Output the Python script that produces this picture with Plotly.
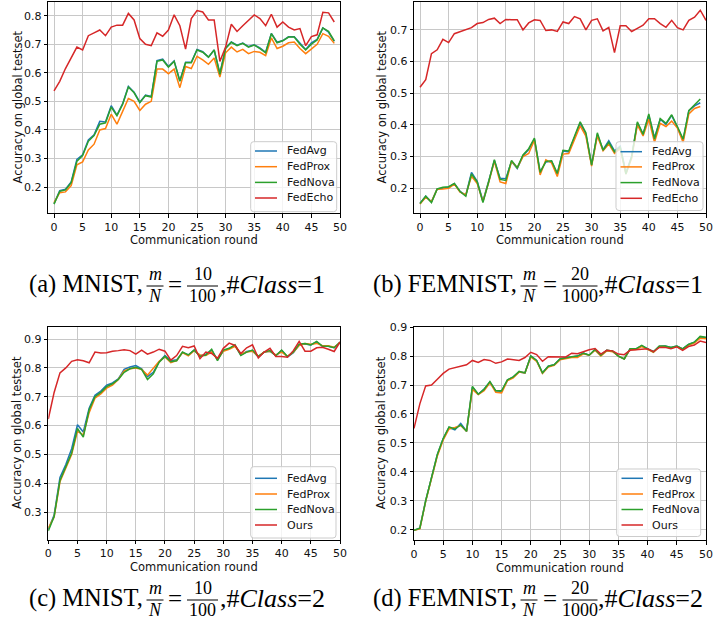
import plotly.graph_objects as go

W, H = 717, 621

# ---------------- data ----------------
series_names_ab = ["FedAvg", "FedProx", "FedNova", "FedEcho"]
series_names_cd = ["FedAvg", "FedProx", "FedNova", "Ours"]
colors = ["#1f77b4", "#ff7f0e", "#2ca02c", "#d62728"]

x_ticks = [0, 5, 10, 15, 20, 25, 30, 35, 40, 45, 50]

# (a) MNIST, #Class=1
fedavg_a = [0.142,0.187,0.192,0.218,0.297,0.313,0.365,0.383,0.43,0.428,0.485,0.452,0.492,0.552,0.532,0.497,0.522,0.517,0.643,0.648,0.622,0.642,0.572,0.637,0.637,0.682,0.674,0.655,0.68,0.598,0.687,0.708,0.697,0.704,0.692,0.698,0.687,0.672,0.738,0.707,0.713,0.726,0.726,0.703,0.682,0.705,0.717,0.757,0.742,0.71]
fedprox_a = [0.145,0.18,0.183,0.205,0.278,0.288,0.33,0.35,0.40,0.405,0.455,0.42,0.465,0.51,0.50,0.468,0.49,0.50,0.613,0.613,0.597,0.613,0.548,0.622,0.615,0.658,0.645,0.63,0.652,0.585,0.67,0.69,0.673,0.682,0.667,0.675,0.672,0.66,0.722,0.685,0.693,0.705,0.708,0.685,0.667,0.685,0.70,0.737,0.728,0.703]
fednova_a = [0.14,0.185,0.19,0.215,0.29,0.31,0.36,0.38,0.42,0.425,0.48,0.45,0.49,0.55,0.53,0.495,0.52,0.515,0.64,0.645,0.62,0.64,0.57,0.635,0.635,0.68,0.672,0.655,0.68,0.595,0.685,0.707,0.695,0.703,0.69,0.697,0.685,0.67,0.737,0.705,0.712,0.725,0.725,0.70,0.68,0.70,0.715,0.757,0.745,0.712]
fedecho_a = [0.537,0.57,0.615,0.65,0.69,0.68,0.73,0.74,0.75,0.73,0.76,0.767,0.767,0.808,0.785,0.72,0.70,0.695,0.74,0.728,0.75,0.803,0.765,0.683,0.79,0.818,0.813,0.785,0.785,0.64,0.69,0.77,0.745,0.765,0.785,0.803,0.79,0.765,0.805,0.76,0.778,0.76,0.75,0.755,0.695,0.727,0.733,0.812,0.81,0.778]

# (b) FEMNIST, #Class=1
fedavg_b = [0.152,0.175,0.157,0.198,0.2,0.203,0.215,0.19,0.178,0.25,0.222,0.16,0.222,0.288,0.232,0.23,0.285,0.262,0.303,0.322,0.355,0.252,0.283,0.285,0.245,0.318,0.315,0.362,0.405,0.37,0.275,0.37,0.322,0.35,0.318,0.333,0.25,0.3,0.405,0.372,0.43,0.36,0.418,0.402,0.43,0.392,0.352,0.445,0.46,0.47]
fedprox_b = [0.15,0.172,0.158,0.197,0.198,0.2,0.213,0.188,0.18,0.238,0.215,0.158,0.218,0.285,0.22,0.215,0.285,0.265,0.3,0.31,0.352,0.242,0.29,0.28,0.237,0.308,0.31,0.355,0.397,0.365,0.27,0.365,0.318,0.34,0.31,0.325,0.245,0.295,0.40,0.365,0.418,0.345,0.405,0.395,0.412,0.39,0.345,0.435,0.452,0.458]
fednova_b = [0.152,0.175,0.155,0.198,0.203,0.205,0.215,0.19,0.175,0.245,0.22,0.155,0.22,0.29,0.228,0.225,0.288,0.265,0.305,0.325,0.358,0.25,0.285,0.287,0.247,0.32,0.318,0.365,0.41,0.375,0.273,0.375,0.32,0.345,0.315,0.33,0.245,0.30,0.41,0.37,0.435,0.355,0.42,0.405,0.432,0.395,0.355,0.445,0.465,0.482]
fedecho_b = [0.519,0.543,0.625,0.637,0.67,0.66,0.688,0.695,0.70,0.707,0.72,0.723,0.733,0.737,0.72,0.733,0.732,0.732,0.70,0.722,0.732,0.73,0.698,0.70,0.695,0.725,0.72,0.742,0.735,0.70,0.73,0.735,0.697,0.708,0.628,0.713,0.713,0.695,0.705,0.715,0.735,0.735,0.72,0.708,0.73,0.707,0.70,0.73,0.74,0.762,0.73]

# (c) MNIST, #Class=2
fedavg_c = [0.24,0.29,0.42,0.465,0.52,0.603,0.578,0.66,0.705,0.72,0.74,0.748,0.762,0.795,0.803,0.808,0.797,0.77,0.785,0.822,0.843,0.825,0.828,0.853,0.845,0.862,0.842,0.847,0.862,0.828,0.86,0.867,0.878,0.845,0.857,0.86,0.838,0.855,0.858,0.843,0.86,0.838,0.853,0.88,0.883,0.88,0.89,0.875,0.875,0.87,0.888]
fedprox_c = [0.245,0.283,0.405,0.45,0.50,0.58,0.568,0.645,0.695,0.71,0.73,0.74,0.76,0.79,0.797,0.80,0.795,0.775,0.80,0.823,0.838,0.818,0.825,0.853,0.842,0.86,0.845,0.843,0.855,0.83,0.858,0.865,0.875,0.848,0.855,0.858,0.84,0.855,0.858,0.845,0.855,0.84,0.855,0.878,0.885,0.882,0.885,0.877,0.877,0.872,0.887]
fednova_c = [0.235,0.285,0.41,0.455,0.505,0.59,0.56,0.655,0.70,0.715,0.735,0.745,0.76,0.785,0.797,0.802,0.795,0.76,0.78,0.82,0.84,0.822,0.825,0.855,0.845,0.862,0.84,0.845,0.865,0.825,0.862,0.868,0.88,0.843,0.855,0.862,0.84,0.855,0.86,0.842,0.862,0.84,0.855,0.882,0.885,0.88,0.892,0.875,0.875,0.87,0.89]
ours_c = [0.623,0.715,0.783,0.80,0.823,0.828,0.825,0.818,0.855,0.852,0.853,0.858,0.86,0.863,0.86,0.848,0.862,0.848,0.855,0.865,0.858,0.827,0.843,0.875,0.87,0.876,0.832,0.855,0.85,0.833,0.868,0.886,0.878,0.85,0.87,0.88,0.835,0.855,0.868,0.84,0.84,0.837,0.86,0.892,0.858,0.858,0.87,0.872,0.865,0.857,0.89]

# (d) FEMNIST, #Class=2
fedavg_d = [0.198,0.205,0.30,0.38,0.46,0.515,0.553,0.545,0.567,0.54,0.693,0.668,0.686,0.71,0.68,0.678,0.717,0.728,0.745,0.742,0.80,0.785,0.742,0.765,0.77,0.79,0.795,0.797,0.80,0.81,0.803,0.822,0.803,0.82,0.817,0.80,0.79,0.825,0.825,0.835,0.825,0.815,0.833,0.835,0.83,0.835,0.825,0.84,0.848,0.866,0.863]
fedprox_d = [0.198,0.203,0.298,0.378,0.455,0.51,0.548,0.553,0.56,0.54,0.685,0.667,0.68,0.708,0.675,0.673,0.715,0.725,0.745,0.742,0.797,0.782,0.74,0.762,0.768,0.787,0.792,0.795,0.795,0.808,0.803,0.82,0.8,0.818,0.815,0.8,0.79,0.823,0.823,0.833,0.823,0.813,0.832,0.832,0.828,0.833,0.823,0.838,0.845,0.862,0.86]
fednova_d = [0.198,0.205,0.30,0.38,0.46,0.515,0.555,0.548,0.562,0.54,0.695,0.668,0.685,0.712,0.68,0.68,0.718,0.728,0.747,0.742,0.80,0.785,0.742,0.765,0.77,0.79,0.795,0.798,0.80,0.81,0.803,0.823,0.803,0.82,0.818,0.80,0.79,0.825,0.825,0.837,0.825,0.815,0.835,0.835,0.83,0.835,0.825,0.84,0.848,0.868,0.865]
ours_d = [0.55,0.635,0.697,0.70,0.72,0.74,0.755,0.76,0.765,0.77,0.785,0.778,0.788,0.785,0.775,0.78,0.79,0.788,0.785,0.795,0.813,0.805,0.782,0.798,0.797,0.796,0.797,0.81,0.808,0.815,0.822,0.826,0.807,0.82,0.818,0.807,0.805,0.82,0.822,0.825,0.825,0.815,0.83,0.83,0.825,0.832,0.82,0.833,0.838,0.852,0.847]

y_ticks_a = [0.2, 0.3, 0.4, 0.5, 0.6, 0.7, 0.8]
y_ticks_b = [0.2, 0.3, 0.4, 0.5, 0.6, 0.7]
y_ticks_c = [0.3, 0.4, 0.5, 0.6, 0.7, 0.8, 0.9]
y_ticks_d = [0.2, 0.3, 0.4, 0.5, 0.6, 0.7, 0.8, 0.9]

x_title = "Communication round"
y_title = "Accuracy on global testset"

# ---------------- layout helpers (pixel -> paper) ----------------
def px(x):
    return x / W

def py(y):
    return 1 - y / H

panels = [
    dict(data=[fedavg_a, fedprox_a, fednova_a, fedecho_a], names=series_names_ab, yt=y_ticks_a,
         xr=[-1, 50], yr=[0.109, 0.848], xd=(48.3, 340), yd=(2, 213),
         box=(250.7, 336.7, 141.7, 211.7), line_x=(255, 277), text_x=285,
         rows=(151, 166.7, 182.4, 198), ylab_x=17),
    dict(data=[fedavg_b, fedprox_b, fednova_b, fedecho_b], names=series_names_ab, yt=y_ticks_b,
         xr=[-1, 50], yr=[0.122, 0.788], xd=(414.3, 706), yd=(2, 213),
         box=(616, 703, 141.7, 210.5), line_x=(620.5, 642), text_x=650,
         rows=(151.7, 166.9, 182.6, 198.3), ylab_x=381),
    dict(data=[fedavg_c, fedprox_c, fednova_c, ours_c], names=series_names_cd, yt=y_ticks_c,
         xr=[0, 50], yr=[0.205, 0.943], xd=(48.3, 340), yd=(326.7, 539.5),
         box=(250.7, 336, 466.7, 538), line_x=(255, 277), text_x=285,
         rows=(478.3, 494, 509.5, 525), ylab_x=17),
    dict(data=[fedavg_d, fedprox_d, fednova_d, ours_d], names=series_names_cd, yt=y_ticks_d,
         xr=[0, 50], yr=[0.1645, 0.9015], xd=(414, 706), yd=(326.7, 540),
         box=(616.7, 700.7, 469, 536.5), line_x=(621.5, 643), text_x=650,
         rows=(478.3, 494, 509.5, 525), ylab_x=381),
]

txt_color = "#111111"
tick_font = dict(family="DejaVu Sans", size=11, color=txt_color)
fig = go.Figure()
layout = dict(width=W, height=H, margin=dict(l=0, r=0, t=0, b=0, autoexpand=False),
              paper_bgcolor="white", plot_bgcolor="white", showlegend=False)
annotations = []
shapes = []


def rounded_rect(x0, x1, y0, y1, r=3):
    X = lambda v: f"{px(v):.6f}"
    Y = lambda v: f"{py(v):.6f}"
    return (f"M {X(x0 + r)} {Y(y0)} L {X(x1 - r)} {Y(y0)} Q {X(x1)} {Y(y0)} {X(x1)} {Y(y0 + r)} "
            f"L {X(x1)} {Y(y1 - r)} Q {X(x1)} {Y(y1)} {X(x1 - r)} {Y(y1)} "
            f"L {X(x0 + r)} {Y(y1)} Q {X(x0)} {Y(y1)} {X(x0)} {Y(y1 - r)} "
            f"L {X(x0)} {Y(y0 + r)} Q {X(x0)} {Y(y0)} {X(x0 + r)} {Y(y0)} Z")


for k, p in enumerate(panels):
    n = k + 1
    xa = "x" if n == 1 else f"x{n}"
    ya = "y" if n == 1 else f"y{n}"
    for s, name, col in zip(p["data"], p["names"], colors):
        fig.add_trace(go.Scatter(x=list(range(len(s))), y=s, mode="lines", name=name,
                                 line=dict(color=col, width=1.5), xaxis=xa, yaxis=ya))
    axis_common = dict(showline=True, linecolor="black", linewidth=1, mirror=True,
                       ticks="outside", ticklen=3.5, tickwidth=1, tickcolor="black",
                       showgrid=True, gridcolor="#c8c8c8", gridwidth=1, zeroline=False,
                       tickfont=tick_font, automargin=False)
    layout["xaxis" if n == 1 else f"xaxis{n}"] = dict(
        axis_common, domain=[px(p["xd"][0]), px(p["xd"][1])], range=p["xr"],
        tickvals=x_ticks, anchor=ya)
    layout["yaxis" if n == 1 else f"yaxis{n}"] = dict(
        axis_common, domain=[py(p["yd"][1]), py(p["yd"][0])], range=p["yr"],
        tickvals=p["yt"], tickformat=".1f", anchor=xa)

    # legend (box + key lines + labels)
    bx0, bx1, by0, by1 = p["box"]
    shapes.append(dict(type="path", xref="paper", yref="paper", layer="above",
                       path=rounded_rect(bx0, bx1, by0, by1),
                       fillcolor="rgba(255,255,255,0.8)", line=dict(color="#cccccc", width=1)))
    for name, col, ry in zip(p["names"], colors, p["rows"]):
        shapes.append(dict(type="line", xref="paper", yref="paper", layer="above",
                           x0=px(p["line_x"][0]), x1=px(p["line_x"][1]), y0=py(ry), y1=py(ry),
                           line=dict(color=col, width=1.5)))
        annotations.append(dict(text=name, x=px(p["text_x"]), y=py(ry), xref="paper", yref="paper",
                                showarrow=False, xanchor="left", yanchor="middle",
                                font=dict(family="DejaVu Sans", size=11, color=txt_color)))

    xc = (p["xd"][0] + p["xd"][1]) / 2
    yc = (p["yd"][0] + p["yd"][1]) / 2
    annotations.append(dict(text=x_title, x=px(xc), y=py(p["yd"][1] + 27.5), xref="paper", yref="paper",
                            showarrow=False, xanchor="center", yanchor="middle",
                            font=dict(family="DejaVu Sans", size=11.5, color=txt_color)))
    annotations.append(dict(text=y_title, x=px(p["ylab_x"]), y=py(yc), xref="paper", yref="paper",
                            showarrow=False, textangle=-90, xanchor="center", yanchor="middle",
                            font=dict(family="DejaVu Sans", size=11.5, color=txt_color)))

# ---------------- captions ----------------
cap_font = "Liberation Serif"


def add_caption(lead, lead_end, m_x, eq_x, num, den, frac_x, frac_w, tail_x, tail, Y):
    def t(text, x, y, size, anchor="center"):
        annotations.append(dict(text=text, x=px(x), y=py(y), xref="paper", yref="paper",
                                showarrow=False, xanchor=anchor, yanchor="middle",
                                font=dict(family=cap_font, size=size, color="black")))
    t(lead, lead_end, Y, 24.5, "right")
    t("<i>m</i>", m_x, Y - 10, 18)
    t("<i>N</i>", m_x, Y + 12, 18)
    shapes.append(dict(type="line", xref="paper", yref="paper", x0=px(m_x - 8.5), x1=px(m_x + 8.5),
                       y0=py(Y + 2), y1=py(Y + 2), line=dict(color="black", width=1)))
    t("=", eq_x, Y, 25)
    t(num, frac_x, Y - 10, 18)
    t(den, frac_x, Y + 12, 18)
    shapes.append(dict(type="line", xref="paper", yref="paper", x0=px(frac_x - frac_w / 2),
                       x1=px(frac_x + frac_w / 2), y0=py(Y + 2), y1=py(Y + 2),
                       line=dict(color="black", width=1)))
    t(tail, tail_x, Y, 26, "left")


add_caption("(a) MNIST,", 145, 155, 175, "10", "100", 202.5, 31, 218, ",#<i>Class</i>=1", 284)
add_caption("(b) FEMNIST,", 519, 529, 550, "20", "1000", 580, 35, 596, ",#<i>Class</i>=1", 284)
add_caption("(c) MNIST,", 145, 155, 175, "10", "100", 202.5, 31, 218, ",#<i>Class</i>=2", 598)
add_caption("(d) FEMNIST,", 519, 529, 550, "20", "1000", 580, 35, 596, ",#<i>Class</i>=2", 598)

layout["annotations"] = annotations
layout["shapes"] = shapes
fig.update_layout(**layout)
fig.write_html("out.html", config={"displayModeBar": False},
               post_script="document.body.style.margin='0px';document.body.style.padding='0px';")
